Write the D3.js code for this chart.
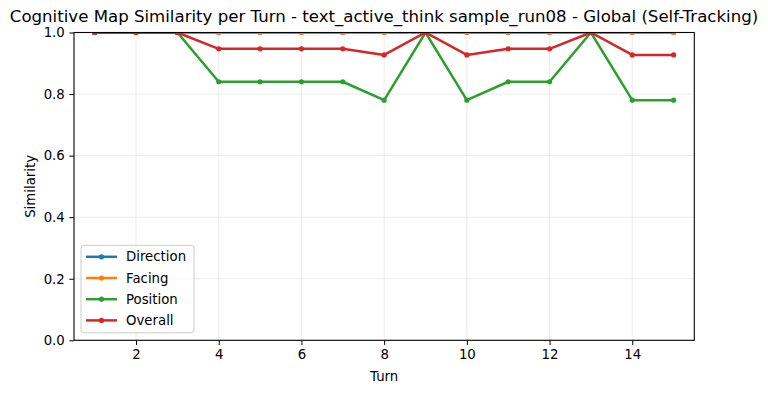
<!DOCTYPE html>
<html>
<head>
<meta charset="utf-8">
<script src="https://cdn.jsdelivr.net/npm/d3@7"></script>
<style>
  body { margin: 0; background: #fff; }
  svg { font-family: "DejaVu Sans", sans-serif; }
</style>
</head>
<body>
<div id="chart"></div>
<script>
// Per-turn similarity scores.
const turns = [1, 2, 3, 4, 5, 6, 7, 8, 9, 10, 11, 12, 13, 14, 15];
const direction = [1, 1, 1, 1, 1, 1, 1, 1, 1, 1, 1, 1, 1, 1, 1];
const facing = [1, 1, 1, 1, 1, 1, 1, 1, 1, 1, 1, 1, 1, 1, 1];
const position = [1, 1, 1, 0.84, 0.84, 0.84, 0.84, 0.78, 1, 0.78, 0.84, 0.84, 1, 0.78, 0.78];
const overall = [1, 1, 1, 0.947, 0.947, 0.947, 0.947, 0.927, 1, 0.927, 0.947, 0.947, 1, 0.927, 0.927];
const xTicks = [2, 4, 6, 8, 10, 12, 14];
const yTicks = [0, 0.2, 0.4, 0.6, 0.8, 1.0];

const series = [
  {name: 'Direction', values: direction, color: '#1f77b4'},
  {name: 'Facing', values: facing, color: '#ff7f0e'},
  {name: 'Position', values: position, color: '#2ca02c'},
  {name: 'Overall', values: overall, color: '#d62728'}
];

const width = 768, height = 393;
const margin = {top: 32.5, right: 73.7, bottom: 52.7, left: 74};
const iw = width - margin.left - margin.right;
const ih = height - margin.top - margin.bottom;

const svg = d3.select('#chart').append('svg')
  .attr('width', width).attr('height', height);

const x = d3.scaleLinear().domain([0.5, 15.5]).range([0, iw]);
const y = d3.scaleLinear().domain([0, 1]).range([ih, 0]);

const g = svg.append('g').attr('transform', `translate(${margin.left},${margin.top})`);

g.append('defs').append('clipPath').attr('id', 'clip')
  .append('rect').attr('width', iw).attr('height', ih);

// Light grid, matplotlib alpha 0.3 style.
g.append('g').selectAll('line').data(xTicks).join('line')
  .attr('x1', d => x(d)).attr('x2', d => x(d))
  .attr('y1', 0).attr('y2', ih)
  .attr('stroke', '#b0b0b0').attr('stroke-opacity', 0.3).attr('stroke-width', 0.8);
g.append('g').selectAll('line').data(yTicks).join('line')
  .attr('x1', 0).attr('x2', iw)
  .attr('y1', d => y(d)).attr('y2', d => y(d))
  .attr('stroke', '#b0b0b0').attr('stroke-opacity', 0.3).attr('stroke-width', 0.8);

// Lines and markers, clipped to the axes box.
const plot = g.append('g').attr('clip-path', 'url(#clip)');
const line = d3.line().x((d, i) => x(turns[i])).y(d => y(d));

series.forEach(s => {
  plot.append('path')
    .attr('d', line(s.values))
    .attr('fill', 'none')
    .attr('stroke', s.color)
    .attr('stroke-width', 2.5)
    .attr('stroke-linejoin', 'round');
  plot.append('g').selectAll('circle').data(s.values).join('circle')
    .attr('cx', (d, i) => x(turns[i]))
    .attr('cy', d => y(d))
    .attr('r', 2.6)
    .attr('fill', s.color);
});

// Axes.
const xAxis = g.append('g').attr('transform', `translate(0,${ih})`)
  .call(d3.axisBottom(x).tickValues(xTicks).tickSize(4.7).tickPadding(4.5).tickFormat(d3.format('d')));
const yAxis = g.append('g')
  .call(d3.axisLeft(y).tickValues(yTicks).tickSize(4.7).tickPadding(4.5).tickFormat(d3.format('.1f')));
[xAxis, yAxis].forEach(a => {
  a.select('.domain').remove();
  a.selectAll('text').attr('font-size', 13.3).attr('fill', '#000').attr('font-family', 'DejaVu Sans');
  a.selectAll('line').attr('stroke', '#000').attr('stroke-width', 1);
});

// Frame (spines).
g.append('rect').attr('width', iw).attr('height', ih)
  .attr('fill', 'none').attr('stroke', '#000').attr('stroke-width', 1.1);

// Title and axis labels.
svg.append('text').attr('x', 384).attr('y', 22)
  .attr('text-anchor', 'middle').attr('font-size', 16.6)
  .text('Cognitive Map Similarity per Turn - text_active_think sample_run08 - Global (Self-Tracking)');
svg.append('text').attr('x', margin.left + iw / 2).attr('y', 381)
  .attr('text-anchor', 'middle').attr('font-size', 13.3).text('Turn');
svg.append('text')
  .attr('transform', `translate(35,${margin.top + ih / 2}) rotate(-90)`)
  .attr('text-anchor', 'middle').attr('font-size', 13.3).text('Similarity');

// Legend in lower-left corner.
const legend = svg.append('g').attr('transform', 'translate(81,245.3)');
legend.append('rect').attr('width', 113).attr('height', 87.5).attr('rx', 3)
  .attr('fill', '#fff').attr('fill-opacity', 0.8)
  .attr('stroke', '#cccccc').attr('stroke-width', 1);
series.forEach((s, i) => {
  const row = legend.append('g').attr('transform', `translate(0,${11.5 + i * 21.2})`);
  row.append('line').attr('x1', 5).attr('x2', 36).attr('stroke', s.color).attr('stroke-width', 2.5);
  row.append('circle').attr('cx', 20.5).attr('r', 2.6).attr('fill', s.color);
  row.append('text').attr('x', 45).attr('dy', '0.35em').attr('font-size', 13.3).text(s.name);
});
</script>
</body>
</html>
